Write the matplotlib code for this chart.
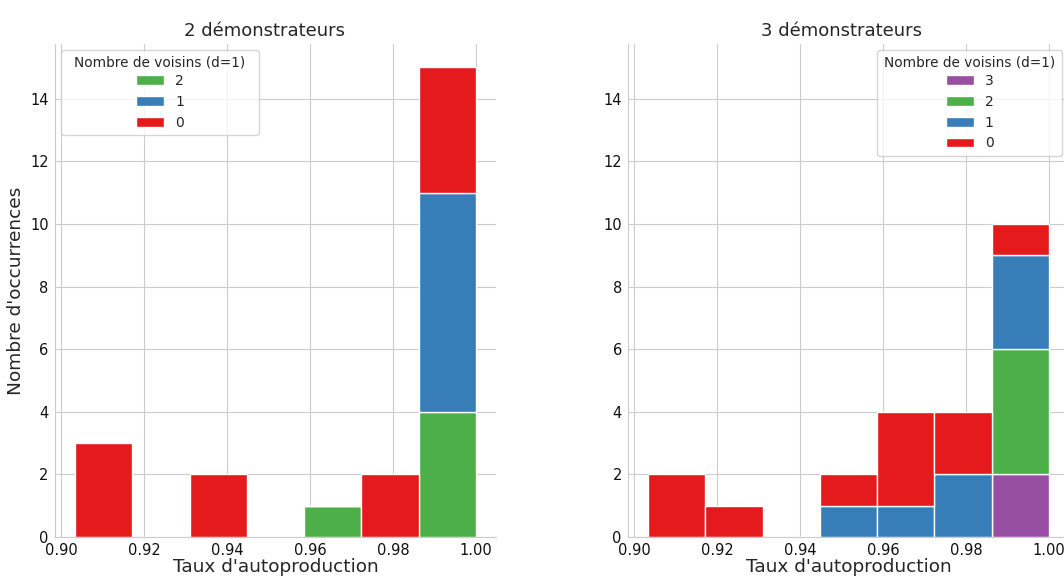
import numpy as np
import matplotlib
matplotlib.use("Agg")
import matplotlib.pyplot as plt
import seaborn as sns

# ---- histogram bins (shared by both panels) ----
bin_lo, bin_hi, n_bins = 0.9033, 1.0, 7

# ---- 2 demonstrators: counts per bin, by number of neighbours ----
counts_2 = {
    "2": [0, 0, 0, 0, 1, 0, 4],
    "1": [0, 0, 0, 0, 0, 0, 7],
    "0": [3, 0, 2, 0, 0, 2, 4],
}
# ---- 3 demonstrators ----
counts_3 = {
    "3": [0, 0, 0, 0, 0, 0, 2],
    "2": [0, 0, 0, 0, 0, 0, 4],
    "1": [0, 0, 0, 1, 1, 2, 3],
    "0": [2, 1, 0, 1, 3, 2, 1],
}
colors = {"0": "#e41a1c", "1": "#377eb8", "2": "#4daf4a", "3": "#984ea3"}
titles = ["2 démonstrateurs", "3 démonstrateurs"]
xticks = [0.90, 0.92, 0.94, 0.96, 0.98, 1.00]

sns.set_style("whitegrid")
plt.rcParams["font.family"] = ["DejaVu Sans"]

edges = np.linspace(bin_lo, bin_hi, n_bins + 1)
centers = (edges[:-1] + edges[1:]) / 2

fig = plt.figure(figsize=(10.64, 5.8), dpi=100)
ax1 = fig.add_axes([55 / 1064, 43 / 580, 441 / 1064, 493 / 580])
ax2 = fig.add_axes([628 / 1064, 43 / 580, 441 / 1064, 493 / 580])

panels = [
    (ax1, counts_2, titles[0], 0.476, (0.0136, 0, 0.449, 0.988)),
    (ax2, counts_3, titles[1], 0.483, (0.565, 0, 0.42, 0.988)),
]
for ax, counts, title, tx, leg_box in panels:
    levels = list(counts)
    ax.hist([centers] * len(levels), bins=edges,
            weights=[counts[k] for k in levels], stacked=True,
            color=[colors[k] for k in levels], label=levels,
            edgecolor="white", linewidth=1)
    ax.set_xlim(0.8985, 1.0048)
    ax.set_ylim(0, 15.75)
    ax.set_xticks(xticks)
    ax.set_xticklabels([f"{t:.2f}" for t in xticks])
    ax.set_yticks(range(0, 15, 2))
    ax.tick_params(labelsize=10.5, pad=1, labelcolor="#111111")
    ax.set_title(title, fontsize=13, pad=6, x=tx)
    ax.set_xlabel("Taux d'autoproduction", fontsize=13.3, labelpad=0)
    for s in ("top", "right"):
        ax.spines[s].set_visible(False)
    leg = ax.legend(title="Nombre de voisins (d=1)", loc="upper left",
                    bbox_to_anchor=leg_box, mode="expand", borderaxespad=0,
                    fontsize=10, title_fontsize=9.8, frameon=True,
                    labelspacing=0.5)
    # keep the wide frame but centre the entries under the title
    leg._legend_handle_box.mode = "fixed"
    leg._legend_box.sep = 3
    leg.get_frame().set_edgecolor("#cccccc")

ax1.set_ylabel("Nombre d'occurrences", fontsize=13.3)

fig.savefig("out.png", dpi=100)
